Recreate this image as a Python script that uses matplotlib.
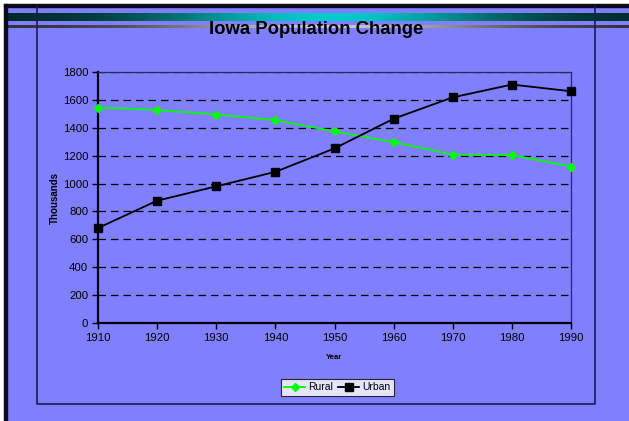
import numpy as np
import matplotlib
matplotlib.use('Agg')
import matplotlib.pyplot as plt
from matplotlib.colors import LinearSegmentedColormap

# ── Data ──────────────────────────────────────────────────────────────────────
YEARS = [1910, 1920, 1930, 1940, 1950, 1960, 1970, 1980, 1990]
RURAL = [1545, 1528, 1495, 1455, 1374, 1297, 1208, 1205, 1122]
URBAN = [681, 877, 980, 1084, 1252, 1465, 1618, 1710, 1662]
Y_TICKS = [0, 200, 400, 600, 800, 1000, 1200, 1400, 1600, 1800]

TITLE = 'Iowa Population Change'
BG = '#8080FF'
FRAME = '#1C1C55'

plt.rcParams['font.family'] = ['Liberation Sans', 'DejaVu Sans']

W, H = 629, 421
fig = plt.figure(figsize=(W / 100, H / 100), dpi=100, facecolor=BG)

# ── slide decorations (pixel coords) ──────────────────────────────────────────
deco = fig.add_axes([0, 0, 1, 1])
deco.set_xlim(0, W)
deco.set_ylim(H, 0)
deco.axis('off')
deco.add_patch(plt.Rectangle((0, 0), W, H, color=BG, zorder=0))

x = np.linspace(0, 1, 400)
prof = np.exp(-((x - 0.52) / 0.28) ** 2)[None, :]
teal = LinearSegmentedColormap.from_list('teal', ['#002a2a', '#00CCCC'])
grey = LinearSegmentedColormap.from_list('grey', ['#303040', '#C8C8C8'])
deco.imshow(prof, cmap=teal, extent=(5, W, 21, 13), aspect='auto', zorder=1)
deco.imshow(prof, cmap=grey, extent=(5, W, 28.5, 25.5), aspect='auto', zorder=1)

# white margin + black slide border (top/left)
deco.add_patch(plt.Rectangle((0, 0), W, 4, color='white', zorder=2))
deco.add_patch(plt.Rectangle((0, 0), 4, H, color='white', zorder=2))
deco.add_patch(plt.Rectangle((4, 4), W, 3, color='#0a0a1a', zorder=3))
deco.add_patch(plt.Rectangle((4, 4), 3, H, color='#0a0a1a', zorder=3))

# chart-area frame
deco.plot([37, 37, 595, 595], [6, 404, 404, 6], color=FRAME, lw=1.2, zorder=4)

fig.text(0.502, 1 - 29 / H, TITLE, ha='center', va='center',
         fontsize=13.3, fontweight='bold', color='black')

# ── plot ──────────────────────────────────────────────────────────────────────
ax = fig.add_axes([98 / W, 1 - 323 / H, (571 - 98) / W, (323 - 72) / H])
ax.set_facecolor('none')

ax.plot(YEARS, RURAL, color='#00FF00', lw=1.3, marker='D', ms=4.5,
        mec='#00FF00', mfc='#00FF00', label='Rural', zorder=5, clip_on=False)
ax.plot(YEARS, URBAN, color='black', lw=1.3, marker='s', ms=6,
        mec='black', mfc='black', label='Urban', zorder=5, clip_on=False)

ax.set_xlim(YEARS[0], YEARS[-1])
ax.set_ylim(Y_TICKS[0], Y_TICKS[-1])
ax.set_xticks(YEARS)
ax.set_yticks(Y_TICKS)
ax.yaxis.grid(True, color='black', linestyle=(0, (6, 4)), lw=0.9)
ax.set_axisbelow(True)

for side in ('left', 'bottom'):
    ax.spines[side].set_linewidth(1.6)
    ax.spines[side].set_color('black')
for side in ('top', 'right'):
    ax.spines[side].set_linewidth(0.9)
    ax.spines[side].set_color('#2a2a55')

ax.tick_params(axis='both', direction='out', length=4, width=1,
               labelsize=8.2, colors='black', pad=3)

ax.set_ylabel('Thousands', fontsize=7, fontweight='bold', labelpad=2)
ax.set_xlabel('Year', fontsize=5.5, fontweight='bold', labelpad=8)

leg = ax.legend(loc='center', bbox_to_anchor=(337.5 / W, 1 - 387.5 / H),
                bbox_transform=fig.transFigure, ncol=2, fontsize=7.5,
                frameon=True, fancybox=False, facecolor='white',
                edgecolor='black', handlelength=2.0, handletextpad=0.3,
                columnspacing=0.5, borderpad=0.3, markerscale=0.9)
leg.get_frame().set_linewidth(0.8)

fig.savefig('out.png', dpi=100, facecolor=BG)
